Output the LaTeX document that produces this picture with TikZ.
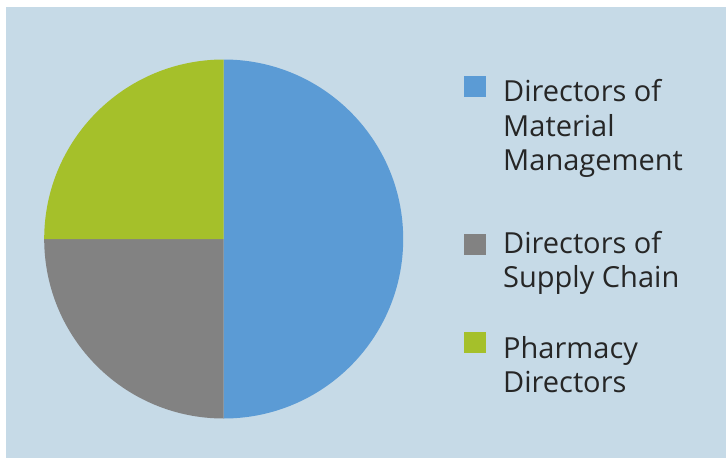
\documentclass[tikz,border=0pt]{standalone}
\usepackage{fontspec}
\setmainfont{Open Sans}
\definecolor{bgc}{HTML}{C6DAE7}
\definecolor{sblue}{HTML}{5B9BD5}
\definecolor{sgray}{HTML}{828282}
\definecolor{sgreen}{HTML}{A5C02A}
\definecolor{txt}{HTML}{262626}
\tikzset{
  legbox/.style={fill=#1, draw=none},
  legtext/.style={anchor=base west, align=left, inner sep=0pt, text=txt,
    font=\fontsize{29}{34.5}\selectfont},
}
\begin{document}
\begin{tikzpicture}[x=1pt,y=-1pt]
\useasboundingbox (0,0) rectangle (726,458);
\fill[bgc] (6,7) rectangle (726,458);
\coordinate (c) at (223.7,239);
\fill[sblue] (c) -- ++(-90:179.5) arc[start angle=-90, end angle=90, radius=179.5] -- cycle;
\fill[sgray] (c) -- ++(90:179.5) arc[start angle=90, end angle=180, radius=179.5] -- cycle;
\fill[sgreen] (c) -- ++(180:179.5) arc[start angle=180, end angle=270, radius=179.5] -- cycle;
\fill[legbox=sblue] (464,75.7) rectangle (485.7,96.7);
\fill[legbox=sgray] (464,234) rectangle (485.7,254.7);
\fill[legbox=sgreen] (464,332) rectangle (485.7,353);
\node[legtext] (l1) at (503,170.7) {Directors of\\Material\\Management};
\node[legtext] (l2) at (503,287.7) {Directors of\\Supply Chain};
\node[legtext] (l3) at (503,392.8) {Pharmacy\\Directors};
\end{tikzpicture}
\end{document}
